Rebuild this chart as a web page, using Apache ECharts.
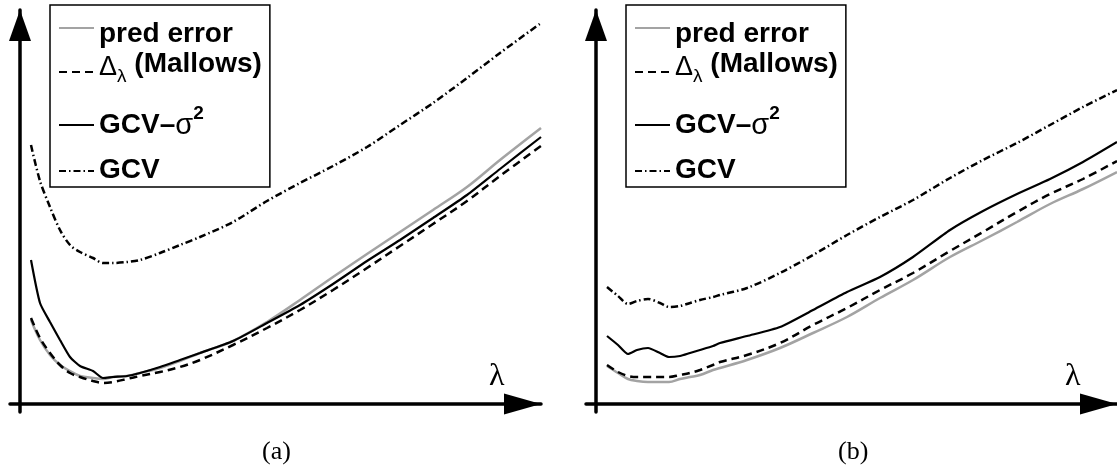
<!DOCTYPE html>
<html>
<head>
<meta charset="utf-8">
<style>
  html, body { margin: 0; padding: 0; background: #fff; }
  #chart { width: 1117px; height: 467px; }
</style>
<script src="https://cdn.jsdelivr.net/npm/echarts@6/dist/echarts.min.js"></script>
</head>
<body>
<div id="chart"></div>
<script>
// ---------- data (arbitrary units) ----------
// panel (a)
const lambdaA = [1.1, 2.0, 3.0, 4.0, 5.0, 6.0, 7.3, 8.3, 9.3, 10.7, 12.0, 14.0, 16.0, 18.0, 21.3, 24.7, 28.0, 31.3, 34.7, 38.0, 41.3, 44.7, 48.0, 52.1];
const predErrA = [8.4, 6.4, 4.9, 3.9, 3.3, 2.8, 2.6, 2.5, 2.7, 2.8, 3.1, 3.6, 4.3, 5.1, 6.3, 8.2, 10.4, 12.7, 15.0, 17.2, 19.4, 21.7, 24.4, 27.6];
const mallowsA = [8.6, 6.6, 5.1, 3.9, 3.1, 2.7, 2.3, 2.1, 2.2, 2.5, 2.8, 3.2, 3.7, 4.4, 5.9, 7.6, 9.4, 11.4, 13.6, 15.8, 18.0, 20.3, 22.8, 25.8];
const gcvSigA  = [14.4, 10.1, 8.2, 6.4, 4.7, 3.8, 3.3, 2.6, 2.7, 2.8, 3.1, 3.7, 4.4, 5.1, 6.3, 8.1, 9.9, 12.0, 14.3, 16.4, 18.6, 20.9, 23.5, 26.7];
const gcvA     = [25.9, 22.3, 19.7, 17.4, 15.9, 15.2, 14.6, 14.1, 14.1, 14.2, 14.4, 15.1, 15.9, 16.7, 18.2, 20.3, 22.1, 23.8, 25.7, 27.9, 30.1, 32.6, 35.1, 38.1];
// panel (b)
const lambdaB = [1.1, 2.2, 3.2, 4.1, 5.2, 6.4, 7.3, 8.4, 9.4, 10.4, 11.7, 12.4, 15.1, 18.4, 21.7, 25.1, 28.4, 31.7, 35.4, 38.7, 42.1, 45.4, 48.7, 52.1];
const predErrB = [3.8, 3.1, 2.5, 2.3, 2.2, 2.2, 2.2, 2.5, 2.7, 2.9, 3.4, 3.6, 4.4, 5.6, 7.1, 8.7, 10.6, 12.4, 14.7, 16.4, 18.2, 20.0, 21.5, 23.2];
const mallowsB = [3.9, 3.2, 2.8, 2.7, 2.7, 2.7, 2.7, 2.9, 3.1, 3.4, 3.9, 4.2, 4.9, 6.1, 7.9, 9.6, 11.4, 13.1, 15.3, 17.2, 19.2, 21.0, 22.5, 24.3];
const gcvSigB  = [6.8, 5.9, 5.0, 5.4, 5.6, 5.1, 4.7, 4.8, 5.1, 5.4, 5.8, 6.1, 6.8, 7.7, 9.4, 11.2, 12.7, 14.7, 17.4, 19.3, 21.0, 22.5, 24.2, 26.2];
const gcvB     = [11.7, 10.8, 10.0, 10.3, 10.5, 10.1, 9.7, 9.8, 10.1, 10.4, 10.7, 10.9, 11.6, 13.1, 14.9, 16.9, 18.7, 20.4, 22.6, 24.4, 26.1, 27.9, 29.7, 31.4];

const seriesNames = ['pred error', 'Δλ (Mallows)', 'GCV–σ²', 'GCV'];
const panelLabels = ['(a)', '(b)'];
const axisLabelText = 'λ';

// ---------- styles ----------
const styles = [
  { color: '#a3a3a3', width: 2.5, type: 'solid', smooth: 0.35 },
  { color: '#000', width: 2.5, type: [8, 5], smooth: 0.35 },
  { color: '#000', width: 2.2, type: 'solid', smooth: 0.2 },
  { color: '#000', width: 2.5, type: [7, 3, 1.5, 3], smooth: 0.3 }
];

const pair = (xs, ys) => xs.map((x, i) => [x, ys[i]]);

function makeSeries(gridIdx, xs, arrs) {
  return arrs.map((ys, k) => ({
    name: seriesNames[k],
    type: 'line',
    xAxisIndex: gridIdx,
    yAxisIndex: gridIdx,
    data: pair(xs, ys),
    symbol: 'none',
    showSymbol: false,
    smooth: styles[k].smooth,
    clip: false,
    silent: true,
    z: 2 + k,
    lineStyle: { color: styles[k].color, width: styles[k].width, type: styles[k].type },
    itemStyle: { color: styles[k].color }
  }));
}

function axisX(gridIdx) {
  return {
    type: 'value', gridIndex: gridIdx, min: -1, max: 52.1,
    splitLine: { show: false }, axisTick: { show: false }, axisLabel: { show: false },
    axisLine: {
      show: true, onZero: true,
      symbol: ['none', 'triangle'], symbolSize: [21, 37], symbolOffset: [0, -18.5],
      lineStyle: { color: '#000', width: 3.5 }
    }
  };
}
function axisY(gridIdx) {
  return {
    type: 'value', gridIndex: gridIdx, min: -0.8, max: 39.4,
    splitLine: { show: false }, axisTick: { show: false }, axisLabel: { show: false },
    axisLine: {
      show: true, onZero: true,
      symbol: ['none', 'triangle'], symbolSize: [22, 31], symbolOffset: [0, -15.5],
      lineStyle: { color: '#000', width: 3.5 }
    }
  };
}

const SANS = 'Liberation Sans, Arial, Helvetica, sans-serif';
const SERIF = 'Liberation Serif, Times New Roman, serif';
const CLEAR = 'rgba(0,0,0,0)';
// token box height = font size + vertical padding (box centred on the legend line);
// text shift inside the box = (top - bottom) / 2
const tok = (size, weight, pad) => ({
  fontFamily: SANS, fontWeight: weight, fontSize: size, padding: pad, color: '#000', backgroundColor: CLEAR
});
const rich = {
  p:  tok(28, 'bold', [14, 0, 2, 0]),
  md: tok(27, 'normal', [0, 0, 8, 0]),
  ml: tok(19, 'normal', [10, 0, 0, 0]),
  mt: tok(28, 'bold', [0, 0, 16, 0]),
  gt: tok(28, 'bold', [17, 0, 17, 0]),
  gs: tok(29, 'normal', [2, 0, 0, 0]),
  g2: tok(19, 'bold', [0, 0, 22, 0]),
  c:  tok(28, 'bold', [0, 0, 2, 0])
};
function legendFormatter(name) {
  if (name === seriesNames[0]) return '{p|pred error}';
  if (name === seriesNames[1]) return '{md|Δ}{ml|λ}{mt| (Mallows)}';
  if (name === seriesNames[2]) return '{gt|GCV–}{gs|σ}{g2|2}';
  return '{c|GCV}';
}
function legend(left) {
  return {
    data: seriesNames,
    orient: 'vertical',
    left: left, top: 5,
    padding: [1, 8, 1, 8],
    itemGap: 0,
    itemWidth: 35, itemHeight: 14,
    itemStyle: { opacity: 0 },
    borderColor: '#000', borderWidth: 1.5,
    backgroundColor: '#fff',
    selectedMode: false,
    formatter: legendFormatter,
    textStyle: { fontFamily: SANS, fontWeight: 'bold', fontSize: 28, color: '#000', rich: rich }
  };
}

const chart = echarts.init(document.getElementById('chart'), null, { renderer: 'canvas' });
chart.setOption({
  animation: false,
  backgroundColor: '#fff',
  grid: [
    { left: 10, right: 576, top: 10, bottom: 55 },
    { left: 586, right: 0, top: 10, bottom: 55 }
  ],
  xAxis: [axisX(0), axisX(1)],
  yAxis: [axisY(0), axisY(1)],
  legend: [legend(50), legend(626)],
  title: [
    { text: panelLabels[0], left: 262, top: 439, padding: 0, textStyle: { fontFamily: SERIF, fontSize: 26, fontWeight: 'normal', color: '#000', lineHeight: 26 } },
    { text: panelLabels[1], left: 838, top: 439, padding: 0, textStyle: { fontFamily: SERIF, fontSize: 26, fontWeight: 'normal', color: '#000', lineHeight: 26 } },
    { text: axisLabelText, left: 489, top: 361, padding: 0, textStyle: { fontFamily: SERIF, fontSize: 32, fontWeight: 'normal', color: '#000', lineHeight: 32 } },
    { text: axisLabelText, left: 1065, top: 361, padding: 0, textStyle: { fontFamily: SERIF, fontSize: 32, fontWeight: 'normal', color: '#000', lineHeight: 32 } }
  ],
  series: [].concat(
    makeSeries(0, lambdaA, [predErrA, mallowsA, gcvSigA, gcvA]),
    makeSeries(1, lambdaB, [predErrB, mallowsB, gcvSigB, gcvB])
  )
});
</script>
</body>
</html>
